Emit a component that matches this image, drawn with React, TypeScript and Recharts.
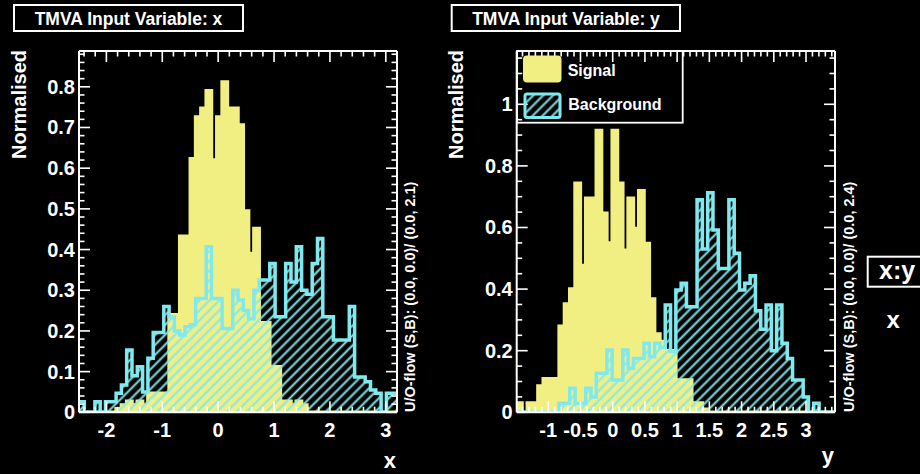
import React from 'react'
import { AreaChart, Area, XAxis, YAxis } from 'recharts'

const SIGNAL_COLOR = '#f2ef82'
const BACKGROUND_COLOR = '#7fe9ee'
const FONT = '"Liberation Sans", Arial, sans-serif'

// histogram ranges of the two input variables, 60 bins each
const X_VAR_RANGE: [number, number] = [-2.49, 3.2]
const Y_VAR_RANGE: [number, number] = [-1.49, 3.45]

const xSignal = [
  0, 0, 0, 0, 0, 0, 0, 0.009, 0.018, 0.027,
  0.018, 0.027, 0.018, 0.047, 0.047, 0.047, 0.047, 0.24, 0.24, 0.433,
  0.433, 0.623, 0.726, 0.747, 0.79, 0.62, 0.726, 0.812, 0.747, 0.747,
  0.706, 0.495, 0.39, 0.452, 0.22, 0.22, 0.112, 0.112, 0.027, 0.027,
  0.018, 0.027, 0.018, 0, 0, 0, 0, 0, 0, 0,
  0, 0, 0, 0, 0, 0, 0, 0, 0, 0,
]
const xBackground = [
  0.026, 0, 0, 0.026, 0, 0.026, 0.026, 0.047, 0.067, 0.153,
  0.09, 0.112, 0.05, 0.133, 0.196, 0.196, 0.26, 0.235, 0.2, 0.19,
  0.21, 0.215, 0.28, 0.28, 0.407, 0.28, 0.28, 0.206, 0.206, 0.3,
  0.276, 0.25, 0.23, 0.3, 0.325, 0.325, 0.366, 0.235, 0.235, 0.366,
  0.32, 0.407, 0.3, 0.29, 0.366, 0.427, 0.235, 0.235, 0.178, 0.178,
  0.178, 0.26, 0.087, 0.087, 0.075, 0.055, 0.047, 0, 0.047, 0.047,
]
const ySignal = [
  0.03, 0, 0.03, 0.03, 0.085, 0.109, 0.109, 0.109, 0.279, 0.352,
  0.4, 0.744, 0.477, 0.695, 0.695, 0.915, 0.646, 0.55, 0.915, 0.744,
  0.526, 0.695, 0.597, 0.719, 0.548, 0.368, 0.254, 0.23, 0.2, 0.2,
  0.105, 0.105, 0.105, 0.03, 0.03, 0.01, 0, 0, 0, 0,
  0, 0, 0, 0, 0, 0, 0, 0, 0, 0,
  0, 0, 0, 0, 0, 0, 0, 0, 0, 0,
]
const yBackground = [
  0, 0, 0, 0, 0, 0, 0, 0, 0.029, 0.029,
  0.078, 0.029, 0.029, 0.078, 0.05, 0.127, 0.127, 0.202, 0.105, 0.105,
  0.202, 0.143, 0.175, 0.175, 0.224, 0.18, 0.224, 0.21, 0.348, 0.197,
  0.397, 0.419, 0.343, 0.343, 0.69, 0.53, 0.713, 0.592, 0.467, 0.467,
  0.69, 0.516, 0.397, 0.419, 0.443, 0.33, 0.27, 0.348, 0.2, 0.348,
  0.224, 0.175, 0.105, 0.105, 0.05, 0, 0.029, 0, 0, 0,
]

const xVarTicks = [-2, -1, 0, 1, 2, 3]
const yVarTicks = [-1, -0.5, 0, 0.5, 1, 1.5, 2, 2.5, 3]
const xNormTicks = [0, 0.1, 0.2, 0.3, 0.4, 0.5, 0.6, 0.7, 0.8]
const yNormTicks = [0, 0.2, 0.4, 0.6, 0.8, 1]

// bin edges -> rows for a step area; last row closes the final bin
function histRows(range: [number, number], sig: number[], bkg: number[]) {
  const n = sig.length
  const w = (range[1] - range[0]) / n
  const rows = sig.map((s, i) => ({ edge: range[0] + i * w, sig: s, bkg: bkg[i] }))
  rows.push({ edge: range[1], sig: sig[n - 1], bkg: bkg[n - 1] })
  return rows
}

function minorTicks(lo: number, hi: number, step: number) {
  const out: number[] = []
  for (let i = Math.ceil(lo / step - 1e-9); i * step <= hi + 1e-9; i++) {
    out.push(+(i * step).toFixed(4))
  }
  return out
}

const fmt = (v: number) => String(Math.round(v * 1000) / 1000)

function axisTick(side: 'bottom' | 'top' | 'left' | 'right', majors: number[], labels: boolean) {
  return (props: any) => {
    const { x, y, payload } = props
    const v = payload.value
    const major = majors.some((m) => Math.abs(m - v) < 1e-6)
    const len = major ? 11 : 5.5
    let x2 = x
    let y2 = y
    if (side === 'bottom') y2 = y - len
    if (side === 'top') y2 = y + len
    if (side === 'left') x2 = x + len
    if (side === 'right') x2 = x - len
    const textStyle = { fontFamily: FONT, fontWeight: 700, fontSize: 20, fill: '#fff' }
    return (
      <g>
        <line x1={x} y1={y} x2={x2} y2={y2} stroke="#fff" strokeWidth={1.6} />
        {labels && major && side === 'bottom' && (
          <text x={x} y={y + 25} textAnchor="middle" style={textStyle}>{fmt(v)}</text>
        )}
        {labels && major && side === 'left' && (
          <text x={x - 4} y={y + 7} textAnchor="end" style={textStyle}>{fmt(v)}</text>
        )}
      </g>
    )
  }
}

interface PanelProps {
  left: number
  width: number
  margin: { top: number; right: number; bottom: number; left: number }
  range: [number, number]
  signal: number[]
  background: number[]
  varTicks: number[]
  varStep: number
  normTicks: number[]
  normStep: number
  normMax: number
  hatchId: string
}

// axes are 1px thick so recharts still draws them; margins absorb that pixel
function VariablePanel(p: PanelProps) {
  const data = histRows(p.range, p.signal, p.background)
  const xTicks = minorTicks(p.range[0], p.range[1], p.varStep)
  const yTicks = minorTicks(0, p.normMax, p.normStep)
  const frame = { stroke: '#fff', strokeWidth: 2 }
  const m = { top: p.margin.top - 1, right: p.margin.right - 1, bottom: p.margin.bottom - 1, left: p.margin.left - 1 }
  return (
    <div style={{ position: 'absolute', left: p.left, top: 0 }}>
      <AreaChart width={p.width} height={474} data={data} margin={m}>
        <Area xAxisId="b" yAxisId="l" type="stepAfter" dataKey="sig" fill={SIGNAL_COLOR} fillOpacity={1}
          stroke={SIGNAL_COLOR} strokeWidth={3.5} dot={false} activeDot={false} isAnimationActive={false} />
        <Area xAxisId="b" yAxisId="l" type="stepAfter" dataKey="bkg" fill={`url(#${p.hatchId})`} fillOpacity={1}
          stroke={BACKGROUND_COLOR} strokeWidth={3.5} dot={false} activeDot={false} isAnimationActive={false} />
        <XAxis xAxisId="b" dataKey="edge" type="number" domain={p.range} allowDataOverflow
          ticks={xTicks} interval={0} height={1} tickSize={0} tickMargin={0} tickLine={false}
          axisLine={frame} tick={axisTick('bottom', p.varTicks, true)} />
        <XAxis xAxisId="t" dataKey="edge" type="number" orientation="top" domain={p.range} allowDataOverflow
          ticks={xTicks} interval={0} height={1} tickSize={0} tickMargin={0} tickLine={false}
          axisLine={frame} tick={axisTick('top', p.varTicks, false)} />
        <YAxis yAxisId="l" type="number" domain={[0, p.normMax]} allowDataOverflow
          ticks={yTicks} interval={0} width={1} tickSize={0} tickMargin={0} tickLine={false}
          axisLine={frame} tick={axisTick('left', p.normTicks, true)} />
        <YAxis yAxisId="r" type="number" orientation="right" domain={[0, p.normMax]} allowDataOverflow
          ticks={yTicks} interval={0} width={1} tickSize={0} tickMargin={0} tickLine={false}
          axisLine={frame} tick={axisTick('right', p.normTicks, false)} />
      </AreaChart>
    </div>
  )
}

const bold = { fontFamily: FONT, fontWeight: 700, fill: '#fff' }

export default function App() {
  return (
    <div style={{ position: 'absolute', left: 0, top: 0, width: 920, height: 474, background: '#000', overflow: 'hidden' }}>
      <VariablePanel left={0} width={460} margin={{ top: 51, right: 63, bottom: 61.7, left: 79 }}
        range={X_VAR_RANGE} signal={xSignal} background={xBackground}
        varTicks={xVarTicks} varStep={0.2} normTicks={xNormTicks} normStep={0.02} normMax={0.888} hatchId="hatchA" />
      <VariablePanel left={440} width={480} margin={{ top: 51, right: 85, bottom: 61.7, left: 76.7 }}
        range={Y_VAR_RANGE} signal={ySignal} background={yBackground}
        varTicks={yVarTicks} varStep={0.1} normTicks={yNormTicks} normStep={0.05} normMax={1.173} hatchId="hatchB" />

      <svg width={920} height={474} style={{ position: 'absolute', left: 0, top: 0, pointerEvents: 'none' }}>
        <defs>
          {['hatchA', 'hatchB', 'hatchL'].map((id) => (
            <pattern key={id} id={id} width={7} height={7} patternUnits="userSpaceOnUse" patternTransform="rotate(45)">
              <line x1={3.5} y1={0} x2={3.5} y2={7} stroke={BACKGROUND_COLOR} strokeWidth={2} />
            </pattern>
          ))}
        </defs>

        {/* titles */}
        <rect x={14} y={5} width={229} height={26} fill="none" stroke="#fff" strokeWidth={2} />
        <text x={128.5} y={24.5} textAnchor="middle" style={{ ...bold, fontSize: 17.5 }}>TMVA Input Variable: x</text>
        <rect x={451.7} y={5} width={228.3} height={26} fill="none" stroke="#fff" strokeWidth={2} />
        <text x={566} y={24.5} textAnchor="middle" style={{ ...bold, fontSize: 17.5 }}>TMVA Input Variable: y</text>

        {/* y titles */}
        <text transform="translate(26,50) rotate(-90)" textAnchor="end" style={{ ...bold, fontSize: 20 }}>Normalised</text>
        <text transform="translate(463,50) rotate(-90)" textAnchor="end" style={{ ...bold, fontSize: 20 }}>Normalised</text>

        {/* x titles */}
        <text x={396} y={468} textAnchor="end" style={{ ...bold, fontSize: 22 }}>x</text>
        <text x={834} y={463} textAnchor="end" style={{ ...bold, fontSize: 22 }}>y</text>

        {/* under/overflow info */}
        <text transform="translate(415,412) rotate(-90)" textAnchor="start" style={{ ...bold, fontSize: 14.5 }}>U/O-flow (S,B): (0.0, 0.0)/ (0.0, 2.1)</text>
        <text transform="translate(853.5,412) rotate(-90)" textAnchor="start" style={{ ...bold, fontSize: 14.5 }}>U/O-flow (S,B): (0.0, 0.0)/ (0.0, 2.4)</text>

        {/* legend */}
        <rect x={517} y={51} width={165.7} height={71.7} fill="none" stroke="#fff" strokeWidth={1.8} />
        <rect x={523} y={55.5} width={38.5} height={27} rx={4} fill={SIGNAL_COLOR} />
        <text x={567.7} y={75.5} style={{ ...bold, fontSize: 16 }}>Signal</text>
        <rect x={525} y={94} width={35} height={23.5} rx={2} fill="url(#hatchL)" stroke={BACKGROUND_COLOR} strokeWidth={3} />
        <text x={568.3} y={109.5} style={{ ...bold, fontSize: 16 }}>Background</text>

        {/* cut-off neighbour pad */}
        <rect x={867.7} y={256.7} width={80} height={30} fill="none" stroke="#fff" strokeWidth={2} />
        <text x={879} y={278.5} style={{ ...bold, fontSize: 25 }}>x:y</text>
        <text x={893.3} y={328} textAnchor="middle" style={{ ...bold, fontSize: 24 }}>x</text>
      </svg>
    </div>
  )
}
